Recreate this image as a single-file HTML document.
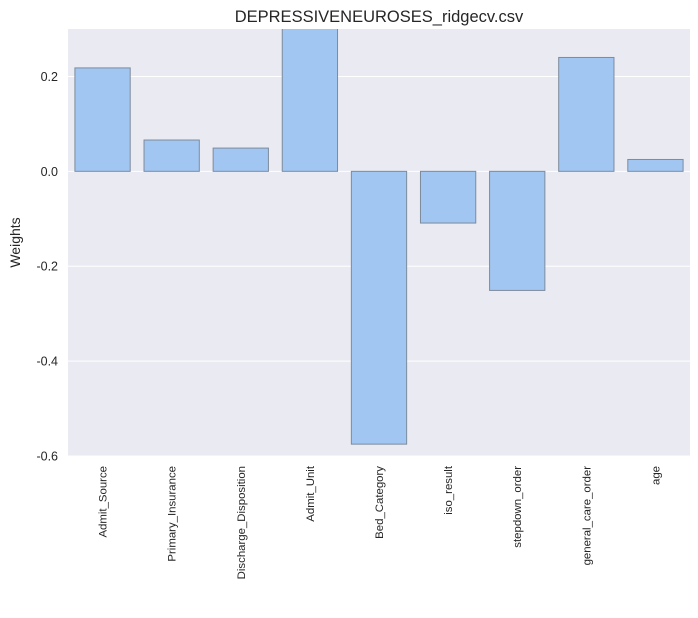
<!DOCTYPE html>
<html><head><meta charset="utf-8"><style>
body{margin:0;background:#fff;font-family:"Liberation Sans",sans-serif;}
</style></head><body>
<svg id="chart" width="698" height="613" font-family="Liberation Sans, sans-serif"></svg>
<script>
const categories=["Admit_Source","Primary_Insurance","Discharge_Disposition","Admit_Unit","Bed_Category","iso_result","stepdown_order","general_care_order","age"];
const weights=[0.218,0.066,0.049,0.31,-0.575,-0.109,-0.251,0.24,0.025];
const yTicks=[0.2,0.0,-0.2,-0.4,-0.6];
const yTickLabels=["0.2","0.0","-0.2","-0.4","-0.6"];
const L=68,R=690,T=29,B=456,ymin=-0.6,ymax=0.3;
const NS="http://www.w3.org/2000/svg";
const svg=document.getElementById('chart');
function y(v){return T+(ymax-v)/(ymax-ymin)*(B-T);}
const step=(R-L)/categories.length;
function xc(i){return L+step*(i+0.5);}
function mk(t,a,p){const e=document.createElementNS(NS,t);for(const k in a)e.setAttribute(k,a[k]);(p||svg).appendChild(e);return e;}
const bg=mk('rect',{x:L,y:T,width:R-L,height:B-T,fill:'#eaeaf2'});


yTicks.forEach((v,i)=>{
  const g=mk('line',{x1:L,x2:R,y1:y(v),y2:y(v),stroke:'#fff','stroke-width':1});
  
  
  const t=mk('text',{x:L-10,y:y(v)+4.5,'text-anchor':'end','font-size':12.5,fill:'#262626'});
  t.textContent=yTickLabels[i];
  
  
});
const clip=mk('clipPath',{id:'c'});mk('rect',{x:L,y:T,width:R-L,height:B-T},clip);
const bw=step*0.8;
categories.forEach((c,i)=>{
  const v=weights[i];
  const r=mk('rect',{x:xc(i)-bw/2,y:Math.min(y(v),y(0)),width:bw,height:Math.abs(y(v)-y(0)),fill:'#a1c6f1',stroke:'#7d8b9c','stroke-width':1,'clip-path':'url(#c)'});
  
  
  const t=mk('text',{x:0,y:0,'text-anchor':'end','font-size':11.4,fill:'#262626',transform:`translate(${xc(i)+4},${B+10}) rotate(-90)`});
  t.textContent=c;
  
  
});
const title=mk('text',{x:(L+R)/2,y:22,'text-anchor':'middle','font-size':16.5,fill:'#262626'});
title.textContent='DEPRESSIVENEUROSES_ridgecv.csv';


const yl=mk('text',{x:0,y:0,'text-anchor':'middle','font-size':14,fill:'#262626',transform:`translate(20,${(T+B)/2}) rotate(-90)`});
yl.textContent='Weights';


</script>
</body></html>
